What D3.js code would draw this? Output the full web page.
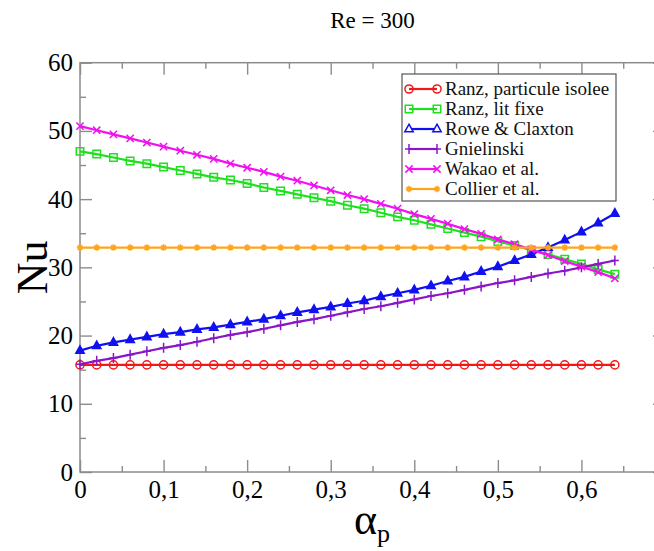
<!DOCTYPE html>
<html>
<head>
<meta charset="utf-8">
<script src="https://cdn.jsdelivr.net/npm/d3@7"></script>
<style>
  body { margin: 0; background: #fff; }
</style>
</head>
<body>
<svg id="chart" width="654" height="551"></svg>
<script>
const alphaP = [0, 0.02, 0.04, 0.06, 0.08, 0.1, 0.12, 0.14, 0.16, 0.18, 0.2, 0.22, 0.24, 0.26, 0.28, 0.3, 0.32,
  0.34, 0.36, 0.38, 0.4, 0.42, 0.44, 0.46, 0.48, 0.5, 0.52, 0.54, 0.56, 0.58, 0.6, 0.62, 0.64];

const ranzIsolee = [15.7, 15.7, 15.7, 15.7, 15.7, 15.7, 15.7, 15.7, 15.7, 15.7, 15.7, 15.7, 15.7, 15.7, 15.7, 15.7, 15.7,
  15.7, 15.7, 15.7, 15.7, 15.7, 15.7, 15.7, 15.7, 15.7, 15.7, 15.7, 15.7, 15.7, 15.7, 15.7, 15.7];
const ranzLitFixe = [47.0, 46.6, 46.1, 45.6, 45.2, 44.7, 44.2, 43.7, 43.2, 42.8, 42.3, 41.7, 41.2, 40.7, 40.2, 39.7, 39.1,
  38.6, 38.0, 37.4, 36.9, 36.3, 35.7, 35.1, 34.5, 33.8, 33.2, 32.5, 31.9, 31.2, 30.5, 29.7, 29.0];
const roweClaxton = [17.8, 18.5, 19.0, 19.4, 19.8, 20.2, 20.5, 20.9, 21.2, 21.6, 22.0, 22.4, 22.9, 23.4, 23.8, 24.2, 24.7,
  25.1, 25.7, 26.2, 26.7, 27.3, 28.0, 28.6, 29.4, 30.1, 31.0, 31.9, 32.9, 34.0, 35.2, 36.5, 37.9];
const gnielinski = [15.8, 16.3, 16.7, 17.2, 17.7, 18.2, 18.6, 19.1, 19.6, 20.1, 20.5, 21.0, 21.5, 22.0, 22.4, 22.9, 23.4,
  23.9, 24.3, 24.8, 25.3, 25.8, 26.2, 26.7, 27.2, 27.7, 28.1, 28.6, 29.1, 29.5, 30.0, 30.5, 31.0];
const wakao = [50.7, 50.1, 49.5, 48.9, 48.3, 47.7, 47.1, 46.5, 45.9, 45.2, 44.6, 44.0, 43.3, 42.7, 42.0, 41.3, 40.6,
  40.0, 39.3, 38.6, 37.8, 37.1, 36.4, 35.6, 34.9, 34.1, 33.4, 32.6, 31.8, 30.9, 30.1, 29.3, 28.4];
const collier = [32.9, 32.9, 32.9, 32.9, 32.9, 32.9, 32.9, 32.9, 32.9, 32.9, 32.9, 32.9, 32.9, 32.9, 32.9, 32.9, 32.9,
  32.9, 32.9, 32.9, 32.9, 32.9, 32.9, 32.9, 32.9, 32.9, 32.9, 32.9, 32.9, 32.9, 32.9, 32.9, 32.9];

const seriesNames = ["Ranz, particule isolee", "Ranz, lit fixe", "Rowe & Claxton", "Gnielinski", "Wakao et al.", "Collier et al."];
const seriesValues = [ranzIsolee, ranzLitFixe, roweClaxton, gnielinski, wakao, collier];
const seriesColors = ["#f21818", "#1ee01e", "#1010f0", "#8a16c8", "#f010f0", "#ffa51a"];
const seriesMarkers = ["circle", "square", "triangle", "plus", "cross", "star"];

const xMajorTicks = [0, 0.1, 0.2, 0.3, 0.4, 0.5, 0.6, 0.7];
const xMinorTicks = [0.05, 0.15, 0.25, 0.35, 0.45, 0.55, 0.65];
const yMajorTicks = [0, 10, 20, 30, 40, 50, 60];
const yMinorTicks = [5, 15, 25, 35, 45, 55];

const serif = "'Liberation Serif', 'Times New Roman', Times, serif";

const svg = d3.select("#chart");

const x = d3.scaleLinear().domain([0, 0.7]).range([80, 665]);
const y = d3.scaleLinear().domain([0, 60]).range([472, 62.7]);

const frameColor = "#8c8c8c";
const fmtX = (d) => (d === 0 ? "0" : d3.format(".1f")(d).replace(".", ","));

function styleAxis(g) {
  g.attr("font-family", null).attr("font-size", null);
  g.select(".domain").remove();
  g.selectAll(".tick line").attr("stroke", frameColor).attr("stroke-width", 1.4);
  g.selectAll(".tick text")
    .attr("fill", "#000")
    .style("font-family", serif)
    .style("font-size", "25px");
}

// bottom / top
svg.append("g").attr("transform", `translate(0,${y(0)})`)
  .call(d3.axisBottom(x).tickValues(xMajorTicks.filter((d) => d < 0.7)).tickSize(-12).tickPadding(8).tickFormat(fmtX))
  .call(styleAxis);
svg.append("g").attr("transform", `translate(0,${y(0)})`)
  .call(d3.axisBottom(x).tickValues(xMinorTicks).tickSize(-6).tickFormat(""))
  .call(styleAxis);
svg.append("g").attr("transform", `translate(0,${y(60)})`)
  .call(d3.axisTop(x).tickValues(xMajorTicks).tickSize(-12).tickFormat(""))
  .call(styleAxis);
svg.append("g").attr("transform", `translate(0,${y(60)})`)
  .call(d3.axisTop(x).tickValues(xMinorTicks).tickSize(-6).tickFormat(""))
  .call(styleAxis);

// left / right
svg.append("g").attr("transform", `translate(${x(0)},0)`)
  .call(d3.axisLeft(y).tickValues(yMajorTicks).tickSize(-12).tickPadding(7).tickFormat(d3.format("d")))
  .call(styleAxis);
svg.append("g").attr("transform", `translate(${x(0)},0)`)
  .call(d3.axisLeft(y).tickValues(yMinorTicks).tickSize(-6).tickFormat(""))
  .call(styleAxis);
svg.append("g").attr("transform", `translate(${x(0.7)},0)`)
  .call(d3.axisRight(y).tickValues(yMajorTicks).tickSize(-12).tickFormat(""))
  .call(styleAxis);
svg.append("g").attr("transform", `translate(${x(0.7)},0)`)
  .call(d3.axisRight(y).tickValues(yMinorTicks).tickSize(-6).tickFormat(""))
  .call(styleAxis);

svg.append("rect")
  .attr("x", x(0))
  .attr("y", y(60))
  .attr("width", x(0.7) - x(0))
  .attr("height", y(0) - y(60))
  .attr("fill", "none")
  .attr("stroke", frameColor)
  .attr("stroke-width", 1.5);

function markerPath(kind) {
  if (kind === "circle") return d3.symbol(d3.symbolCircle, 52)();
  if (kind === "square") return d3.symbol(d3.symbolSquare, 56)();
  if (kind === "triangle") return "M0,-4.8L4.2,2.8L-4.2,2.8Z";
  if (kind === "plus") return "M-4,0H4M0,-5V5";
  if (kind === "cross") return "M-3.6,-3.6L3.6,3.6M-3.6,3.6L3.6,-3.6";
  return "M-3.2,0H3.2M0,-3.2V3.2M-2.3,-2.3L2.3,2.3M-2.3,2.3L2.3,-2.3";
}

function drawMarker(sel, kind, color) {
  sel.append("path")
    .attr("d", markerPath(kind))
    .attr("fill", kind === "triangle" ? color : "none")
    .attr("stroke", color)
    .attr("stroke-width", kind === "star" ? 1.6 : 1.5);
}

const line = d3.line().x((d) => x(d[0])).y((d) => y(d[1]));

seriesValues.forEach((vals, i) => {
  const pts = alphaP.map((a, j) => [a, vals[j]]);
  const g = svg.append("g");

  g.append("path")
    .attr("d", line(pts))
    .attr("fill", "none")
    .attr("stroke", seriesColors[i])
    .attr("stroke-width", 2.2);

  g.selectAll(".m")
    .data(pts)
    .enter()
    .append("g")
    .attr("transform", (d) => `translate(${x(d[0])},${y(d[1])})`)
    .each(function () {
      drawMarker(d3.select(this), seriesMarkers[i], seriesColors[i]);
    });
});

// legend
const legend = svg.append("g");
legend.append("rect")
  .attr("x", 402)
  .attr("y", 74)
  .attr("width", 214)
  .attr("height", 127)
  .attr("fill", "#fff")
  .attr("stroke", "#555")
  .attr("stroke-width", 1.2);

seriesNames.forEach((name, i) => {
  const ly = 89 + i * 20;
  legend.append("line")
    .attr("x1", 409).attr("x2", 437)
    .attr("y1", ly).attr("y2", ly)
    .attr("stroke", seriesColors[i])
    .attr("stroke-width", 2.2);
  [409, 437].forEach((lx) => {
    const m = legend.append("g").attr("transform", `translate(${lx},${ly})`);
    drawMarker(m, seriesMarkers[i], seriesColors[i]);
    if (seriesMarkers[i] === "triangle") m.select("path").attr("fill", "#fff");
  });
  legend.append("text")
    .attr("x", 445)
    .attr("y", ly + 6)
    .style("font-family", serif)
    .style("font-size", "19px")
    .attr("fill", "#111")
    .text(name);
});

// titles
svg.append("text")
  .attr("x", (x(0) + x(0.7)) / 2)
  .attr("y", 28)
  .attr("text-anchor", "middle")
  .style("font-family", serif)
  .style("font-size", "23px")
  .text("Re = 300");

svg.append("text")
  .attr("transform", `translate(47,${(y(0) + y(60)) / 2}) rotate(-90)`)
  .attr("text-anchor", "middle")
  .style("font-family", serif)
  .style("font-size", "44px")
  .text("Nu");

const xTitle = svg.append("text")
  .attr("x", 372)
  .attr("y", 534)
  .attr("text-anchor", "middle")
  .style("font-family", serif);
xTitle.append("tspan").style("font-size", "44px").text("α");
xTitle.append("tspan").style("font-size", "26px").attr("dy", 8).text("p");
</script>
</body>
</html>
